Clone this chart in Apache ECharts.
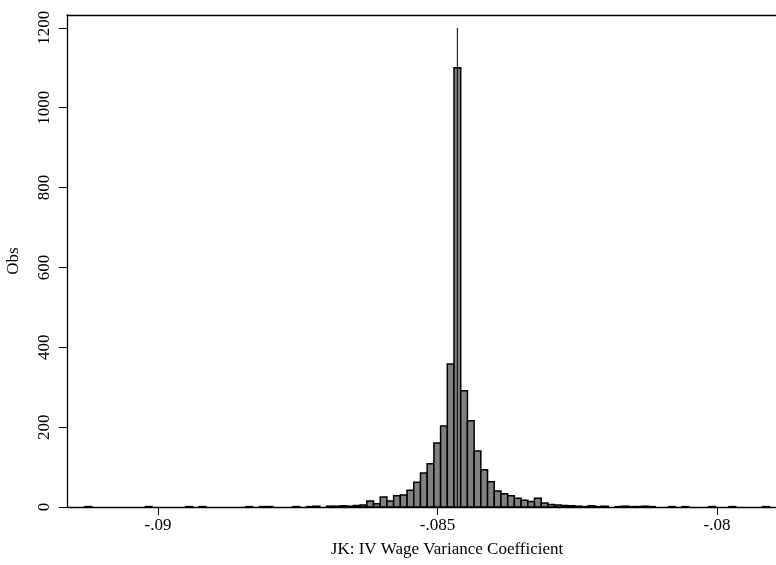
<!DOCTYPE html>
<html>
<head>
<meta charset="utf-8">
<script src="https://cdn.jsdelivr.net/npm/echarts@6/dist/echarts.min.js"></script>
<style>html,body{margin:0;padding:0;background:#fff}#c{width:776px;height:565px}</style>
</head>
<body>
<div id="c"></div>
<script>
// ---- data ----
var binStart = -0.0913048;   // lower edge of first bin
var binWidth = 0.00012;      // histogram bin width
var counts = [
 1,0,0,0,0,0,0,0,0,1,   // 0-9
 0,0,0,0,0,1,0,1,0,0,   // 10-19
 0,0,0,0,1,0,1,1,0,0,   // 20-29
 0,1,0,1,2,0,2,2,3,2,   // 30-39
 4,5,15,8,25,15,28,30,42,62,  // 40-49
 85,108,160,203,358,1100,291,216,140,93, // 50-59
 63,40,33,28,22,17,14,22,10,6,  // 60-69
 5,4,3,2,1,3,1,2,0,1,   // 70-79
 2,1,1,2,1,0,0,1,0,1,   // 80-89
 0,0,0,1,0,0,1,0,0,0,   // 90-99
 0,1,0
];
var spikeIndex = 55;     // bin carrying the thin spike line
var spikeValue = 1200;
var xTickValues = [-0.09, -0.085, -0.08];
var xTickLabels = ['-.09', '-.085', '-.08'];
var yTickValues = [0, 200, 400, 600, 800, 1000, 1200];
var xTitle = 'JK: IV Wage Variance Coefficient';
var yTitle = 'Obs';

// ---- chart ----
var histData = counts.map(function (c, i) {
  return [binStart + i * binWidth, binStart + (i + 1) * binWidth, c];
});
var spikeData = [[binStart + (spikeIndex + 0.5) * binWidth, spikeValue]];

var font = 'Liberation Serif';
var chart = echarts.init(document.getElementById('c'), null, {renderer: 'canvas'});
var xMin = -0.0916279, xMax = -0.0780322;
chart.setOption({
  animation: false,
  backgroundColor: '#fff',
  grid: {left: 67, top: 15, width: 760, height: 492, outerBoundsMode: 'none', containLabel: false},
  xAxis: [{
    type: 'value', min: xMin, max: xMax, position: 'bottom',
    splitLine: {show: false},
    axisLine: {show: true, onZero: false, lineStyle: {color: '#000', width: 1.3}},
    axisTick: {show: true, length: 8, customValues: xTickValues, lineStyle: {color: '#000', width: 1}},
    axisLabel: {
      customValues: xTickValues, margin: 10,
      fontFamily: font, fontSize: 17, color: '#000',
      formatter: function (v) {
        for (var i = 0; i < xTickValues.length; i++) if (Math.abs(v - xTickValues[i]) < 1e-9) return xTickLabels[i];
        return '';
      }
    },
    name: xTitle, nameLocation: 'middle', nameGap: 34,
    nameTextStyle: {fontFamily: font, fontSize: 17, color: '#000'}
  }, {
    type: 'value', min: xMin, max: xMax, position: 'top',
    splitLine: {show: false}, axisTick: {show: false}, axisLabel: {show: false},
    axisLine: {show: true, onZero: false, lineStyle: {color: '#000', width: 1.3}}
  }],
  yAxis: {
    type: 'value', min: 0, max: 1232,
    splitLine: {show: false},
    axisLine: {show: true, onZero: false, lineStyle: {color: '#000', width: 1.3}},
    axisTick: {show: true, length: 8, customValues: yTickValues, lineStyle: {color: '#000', width: 1}},
    axisLabel: {customValues: yTickValues, rotate: 90, margin: 14, fontFamily: font, fontSize: 17, color: '#000',
      formatter: function (v) { return String(Math.round(v)); }},
    name: yTitle, nameLocation: 'middle', nameGap: 45, nameRotate: 90,
    nameTextStyle: {fontFamily: font, fontSize: 17, color: '#000'}
  },
  series: [{
    type: 'custom',
    data: histData,
    encode: {x: [0, 1], y: 2},
    renderItem: function (params, api) {
      var v = api.value(2);
      if (!v) return null;
      var p0 = api.coord([api.value(0), v]);
      var p1 = api.coord([api.value(1), 0]);
      return {
        type: 'rect',
        shape: {x: p0[0], y: p0[1], width: p1[0] - p0[0], height: p1[1] - p0[1]},
        style: {fill: '#808080', stroke: '#000', lineWidth: 1.5}
      };
    }
  }, {
    type: 'custom',
    data: spikeData,
    encode: {x: 0, y: 1},
    z: 3,
    renderItem: function (params, api) {
      var top = api.coord([api.value(0), api.value(1)]);
      var base = api.coord([api.value(0), 0]);
      return {
        type: 'line',
        shape: {x1: top[0], y1: top[1], x2: base[0], y2: base[1]},
        style: {stroke: '#000', lineWidth: 1}
      };
    }
  }]
});
</script>
</body>
</html>
